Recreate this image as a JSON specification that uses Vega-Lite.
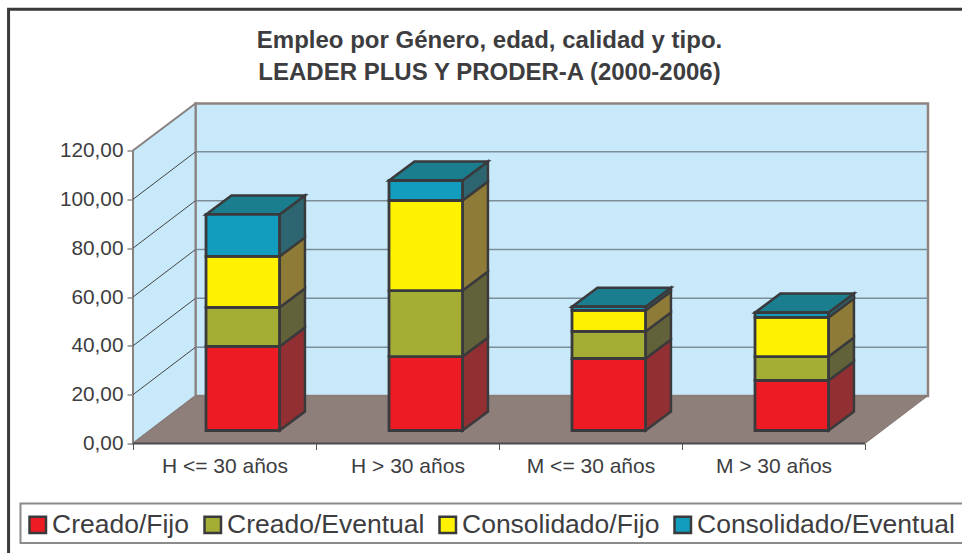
{
"$schema":"https://vega.github.io/schema/vega-lite/v6.json",
"width":795,"height":340,
"autosize":{"type":"none"},
"padding":{"left":133,"top":103.5,"right":34,"bottom":109.5},
"background":"#ffffff",
"config":{"view":{"stroke":null},"font":"Liberation Sans"},
"title":{"text":["Empleo por Género, edad, calidad y tipo.","LEADER PLUS Y PRODER-A (2000-2006)"],"font":"Liberation Sans","fontSize":24,"fontWeight":"bold","color":"#3d3d3f","anchor":"middle","dx":-41,"lineHeight":32,"offset":-77},
"datasets":{
"bars":[
{"category":"H <= 30 años","series":"Creado/Fijo","value":34.4},
{"category":"H <= 30 años","series":"Creado/Eventual","value":16.0},
{"category":"H <= 30 años","series":"Consolidado/Fijo","value":20.9},
{"category":"H <= 30 años","series":"Consolidado/Eventual","value":17.2},
{"category":"H > 30 años","series":"Creado/Fijo","value":30.3},
{"category":"H > 30 años","series":"Creado/Eventual","value":27.0},
{"category":"H > 30 años","series":"Consolidado/Fijo","value":36.9},
{"category":"H > 30 años","series":"Consolidado/Eventual","value":8.2},
{"category":"M <= 30 años","series":"Creado/Fijo","value":29.5},
{"category":"M <= 30 años","series":"Creado/Eventual","value":11.1},
{"category":"M <= 30 años","series":"Consolidado/Fijo","value":8.6},
{"category":"M <= 30 años","series":"Consolidado/Eventual","value":1.5},
{"category":"M > 30 años","series":"Creado/Fijo","value":20.5},
{"category":"M > 30 años","series":"Creado/Eventual","value":9.8},
{"category":"M > 30 años","series":"Consolidado/Fijo","value":16.0},
{"category":"M > 30 años","series":"Consolidado/Eventual","value":2.0}
],
"ticks":[{"tick":20},{"tick":40},{"tick":60},{"tick":80},{"tick":100}],
"depth":[{"d":0},{"d":1}]
},
"layer":[
{"data":{"values":[{}]},
 "mark":{"type":"rect","fill":null,"stroke":"#3a3a3c","strokeWidth":3},
 "encoding":{
  "x":{"datum":-0.68,"type":"quantitative","scale":{"domain":[0,4.3443],"nice":false,"zero":false},
   "axis":{"title":null,"grid":false,"domain":false,"values":[0,0.5,1,1.5,2,2.5,3,3.5,4],"tickSize":6,"tickColor":"#555555","tickWidth":1,
    "tickOpacity":{"condition":{"test":"datum.value % 1 == 0","value":1},"value":0},
    "labelExpr":"datum.value % 1 == 0 ? '' : ['H <= 30 años','H > 30 años','M <= 30 años','M > 30 años'][floor(datum.value)]",
    "labelFont":"Liberation Sans","labelFontSize":21,"labelColor":"#3d3d3f","labelPadding":6,"labelFlush":false,"labelOverlap":false,"labelAngle":0}},
  "x2":{"datum":4.6},
  "y":{"datum":177.9,"type":"quantitative","scale":{"domain":[0,139.25],"nice":false,"zero":false},
   "axis":{"title":null,"grid":false,"domain":false,"values":[0,20,40,60,80,100,120],"tickSize":6,"tickColor":"#555555","tickWidth":1,
    "labelExpr":"replace(format(datum.value,'.2f'),'.',',')",
    "labelFont":"Liberation Sans","labelFontSize":20.8,"labelColor":"#3d3d3f","labelPadding":4,"labelFlush":false,"labelOverlap":false}},
  "y2":{"datum":-70}
 }},
{"data":{"values":[{}]},
 "mark":{"type":"rect","fill":null,"stroke":"#8a8a8a","strokeWidth":2},
 "encoding":{"x":{"datum":-0.6148,"type":"quantitative"},"x2":{"datum":4.6},"y":{"datum":-24.57,"type":"quantitative"},"y2":{"datum":-40.75}}},
{"data":{"values":[{}]},
 "mark":{"type":"rect","fill":"#c8e9fa","stroke":"#8f8380","strokeWidth":2.5},
 "encoding":{"x":{"datum":0.3415,"type":"quantitative"},"x2":{"datum":4.3443},"y":{"datum":19.45,"type":"quantitative"},"y2":{"datum":139.25}}},
{"data":{"name":"depth"},
 "transform":[{"calculate":"datum.d*0.3415","as":"wx"},{"calculate":"datum.d*19.45","as":"wy"},{"calculate":"120+datum.d*19.25","as":"wy2"}],
 "mark":{"type":"area","fill":"#c8e9fa","stroke":"#8a8280","strokeWidth":2},
 "encoding":{"x":{"field":"wx","type":"quantitative"},"y":{"field":"wy","type":"quantitative"},"y2":{"field":"wy2"}}},
{"data":{"name":"ticks"},
 "transform":[{"calculate":"datum.tick+19.45","as":"back"}],
 "mark":{"type":"rule","stroke":"#7d8e99","strokeWidth":1.5},
 "encoding":{"x":{"datum":0.3415,"type":"quantitative"},"x2":{"datum":4.3443},"y":{"field":"back","type":"quantitative"}}},
{"data":{"name":"ticks"},
 "transform":[{"calculate":"datum.tick+19.45","as":"back"}],
 "mark":{"type":"rule","stroke":"#444444","strokeWidth":1},
 "encoding":{"x":{"datum":0,"type":"quantitative"},"x2":{"datum":0.3415},"y":{"field":"tick","type":"quantitative"},"y2":{"field":"back"}}},
{"data":{"name":"depth"},
 "transform":[{"calculate":"datum.d*0.3415","as":"fx"},{"calculate":"4+datum.d*0.3415","as":"fx2"},{"calculate":"datum.d*19.45","as":"fy"}],
 "mark":{"type":"area","orient":"horizontal","fill":"#8e7f7b","stroke":"#857875","strokeWidth":1},
 "encoding":{"x":{"field":"fx","type":"quantitative"},"x2":{"field":"fx2"},"y":{"field":"fy","type":"quantitative"}}},
{"data":{"values":[{}]},
 "mark":{"type":"rule","stroke":"#4a4a4a","strokeWidth":2},
 "encoding":{"x":{"datum":0,"type":"quantitative"},"x2":{"datum":4},"y":{"datum":0,"type":"quantitative"}}},
{"data":{"name":"bars"},
 "transform":[
  {"stack":"value","groupby":["category"],"as":["v0","v1"]},
  {"calculate":"indexof(['H <= 30 años','H > 30 años','M <= 30 años','M > 30 años'],datum.category)+0.399","as":"left"},
  {"calculate":"datum.left+0.4016","as":"right"},
  {"calculate":"datum.v0+5.32","as":"low"},
  {"calculate":"datum.v1+5.32","as":"high"}
 ],
 "layer":[
  {"transform":[{"calculate":"[0,1]","as":"d"},{"flatten":["d"]},
    {"calculate":"datum.right+datum.d*0.139","as":"sx"},
    {"calculate":"datum.high+datum.d*7.78","as":"sy"},
    {"calculate":"datum.low+datum.d*7.78","as":"sy2"}],
   "mark":{"type":"area","stroke":"#3a3a3c","strokeWidth":2.5,"strokeJoin":"miter"},
   "encoding":{
    "x":{"field":"sx","type":"quantitative"},
    "y":{"field":"sy","type":"quantitative"},
    "y2":{"field":"sy2"},
    "detail":{"field":"category"},
    "color":{"field":"series","type":"nominal","legend":null,
      "scale":{"domain":["Consolidado/Eventual","Consolidado/Fijo","Creado/Eventual","Creado/Fijo"],"range":["#2d6670","#8e7b38","#62623a","#912f32"]}}
   }},
  {"transform":[{"filter":"datum.series === 'Consolidado/Eventual'"},{"calculate":"[0,1]","as":"d"},{"flatten":["d"]},
    {"calculate":"datum.left+datum.d*0.139","as":"tx"},
    {"calculate":"datum.right+datum.d*0.139","as":"tx2"},
    {"calculate":"datum.high+datum.d*7.78","as":"ty"}],
   "mark":{"type":"area","orient":"horizontal","fill":"#1a7e8e","stroke":"#3a3a3c","strokeWidth":2.5},
   "encoding":{
    "x":{"field":"tx","type":"quantitative"},
    "x2":{"field":"tx2"},
    "y":{"field":"ty","type":"quantitative"},
    "detail":{"field":"category"}
   }},
  {"mark":{"type":"rect","stroke":"#3a3a3c","strokeWidth":2.8},
   "encoding":{
    "x":{"field":"left","type":"quantitative"},
    "x2":{"field":"right"},
    "y":{"field":"low","type":"quantitative"},
    "y2":{"field":"high"},
    "fill":{"field":"series","type":"nominal",
      "scale":{"domain":["Creado/Fijo","Creado/Eventual","Consolidado/Fijo","Consolidado/Eventual"],"range":["#ed1c24","#a4ad34","#fff200","#129cbd"]},
      "legend":{"title":null,"orient":"none","legendX":-108.5,"legendY":408,"direction":"horizontal","columns":4,"columnPadding":10,
        "symbolType":"square","symbolSize":272,"symbolStrokeColor":"#3a3a3c","symbolStrokeWidth":2.5,
        "labelFont":"Liberation Sans","labelFontSize":26.5,"labelColor":"#3d3d3f","labelLimit":400,"labelOffset":1,
        "padding":0}}
   }}
 ]}
]
}
